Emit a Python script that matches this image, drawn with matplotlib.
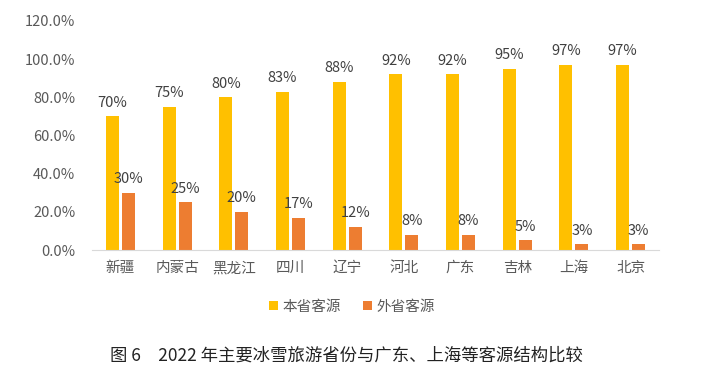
import matplotlib
matplotlib.use("Agg")
import matplotlib.pyplot as plt
import numpy as np
from matplotlib.ticker import FuncFormatter

plt.rcParams['font.family'] = ['Noto Sans CJK SC', 'DejaVu Sans']

categories = ["新疆", "内蒙古", "黑龙江", "四川", "辽宁", "河北", "广东", "吉林", "上海", "北京"]
local = [0.70, 0.75, 0.80, 0.83, 0.88, 0.92, 0.92, 0.95, 0.97, 0.97]
outside = [0.30, 0.25, 0.20, 0.17, 0.12, 0.08, 0.08, 0.05, 0.03, 0.03]
series_names = ["本省客源", "外省客源"]
title = "图 6　2022 年主要冰雪旅游省份与广东、上海等客源结构比较"

W, H = 703, 387
fig = plt.figure(figsize=(W/100, H/100), dpi=100)
ax = fig.add_axes([92/W, 1-250/H, 567/W, (250-21)/H])

x = np.arange(len(categories))
bw = 0.23
off = 0.141
c1, c2 = "#FFC000", "#ED7D31"
b1 = ax.bar(x - off, local, bw, color=c1, label=series_names[0])
b2 = ax.bar(x + off, outside, bw, color=c2, label=series_names[1])

tc = "#404040"
for xi, v in zip(x, local):
    ax.text(xi - off, v + 0.035, f"{v*100:.0f}%", ha="center", va="bottom", fontsize=10.5, color=tc)
for xi, v in zip(x, outside):
    ax.text(xi + off, v + 0.035, f"{v*100:.0f}%", ha="center", va="bottom", fontsize=10.5, color=tc)

ax.set_xlim(-0.5, 9.5)
ax.set_ylim(0, 1.2)
ax.set_yticks(np.arange(0, 1.21, 0.2))
ax.yaxis.set_major_formatter(FuncFormatter(lambda v, p: f"{v*100:.1f}%"))
ax.set_xticks(x)
ax.set_xticklabels(categories)
ax.tick_params(axis="both", length=0, labelsize=10.5, labelcolor="#595959")
ax.tick_params(axis="x", pad=8)
ax.tick_params(axis="y", pad=12)
for s in ["top", "right", "left"]:
    ax.spines[s].set_visible(False)
ax.spines["bottom"].set_color("#D9D9D9")

fig.legend(handles=[b1, b2], labels=series_names, loc="center", bbox_to_anchor=(352/W, 1-307/H),
           ncol=2, frameon=False, fontsize=10.5, handlelength=0.6, handleheight=0.6,
           handletextpad=0.3, columnspacing=1.5, labelcolor="#595959")

fig.text(346/W, 1-356/H, title, ha="center", va="center", fontsize=12.5, color="#222222")

fig.savefig("out.png", dpi=100)
